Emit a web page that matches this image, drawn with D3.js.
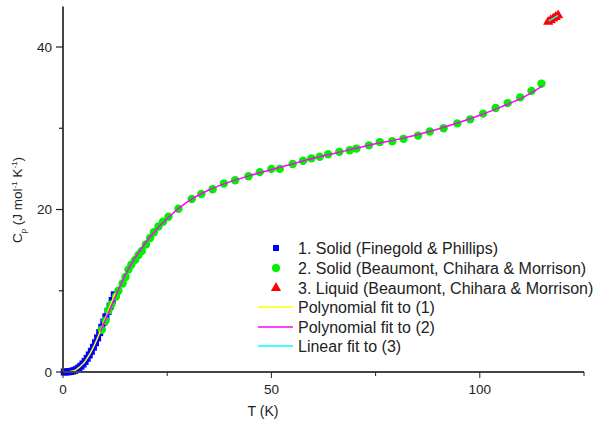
<!DOCTYPE html>
<html>
<head>
<meta charset="utf-8">
<script src="https://cdn.jsdelivr.net/npm/d3@7"></script>
<style>
  body { margin: 0; background: #fff; }
  text { font-family: "Liberation Sans", Arial, sans-serif; fill: #222; }
</style>
</head>
<body>
<div id="chart"></div>
<script>
// =============================
// DATA
// =============================
// 1. Solid (Finegold & Phillips)
const solid1T  = [0.3, 0.8, 1.3, 1.8, 2.3, 2.8, 3.3, 3.8, 4.3, 4.8, 5.3, 5.8, 6.3, 6.8, 7.3, 7.8, 8.3, 8.8, 9.3, 9.8, 10.3, 10.8, 11.3, 11.8, 12.3];
const solid1Cp = [0.0, 0.01, 0.03, 0.06, 0.12, 0.2, 0.32, 0.5, 0.72, 0.98, 1.3, 1.68, 2.1, 2.55, 3.05, 3.6, 4.2, 4.85, 5.5, 6.15, 6.8, 7.45, 8.1, 8.8, 9.5];

// 2. Solid (Beaumont, Chihara & Morrison)
const solid2T  = [9.3, 10.2, 10.9, 11.6, 12.7, 13.3, 14.3, 15.0, 15.7, 16.4, 17.3, 18.1, 18.9, 19.9, 20.9, 21.8, 22.9, 24.0, 25.3, 27.7, 30.9, 33.2, 35.9, 38.6, 41.3, 44.5, 47.2, 50.0, 52.0, 55.1, 57.6, 59.6, 61.6, 63.6, 66.3, 68.8, 70.4, 73.4, 76.0, 79.0, 81.7, 85.2, 88.0, 91.3, 94.6, 97.7, 100.8, 103.8, 106.7, 109.7, 112.4, 114.8];
const solid2Cp = [5.2, 6.3, 7.6, 8.3, 9.3, 10.0, 10.9, 11.7, 12.6, 13.2, 13.8, 14.4, 14.9, 15.7, 16.5, 17.2, 17.9, 18.5, 19.1, 20.1, 21.3, 21.9, 22.5, 23.2, 23.6, 24.1, 24.6, 25.0, 25.0, 25.6, 26.0, 26.3, 26.5, 26.8, 27.1, 27.3, 27.5, 27.9, 28.3, 28.4, 28.7, 29.1, 29.6, 30.0, 30.6, 31.1, 31.8, 32.5, 33.1, 33.8, 34.6, 35.5];

// 3. Liquid (Beaumont, Chihara & Morrison)
const liquidT  = [116.4, 117.0, 117.6, 118.2, 118.8];
const liquidCp = [43.1, 43.3, 43.5, 43.7, 43.9];

// fitted curves
const fit1T  = [0, 1, 2, 3, 4, 5, 6, 7, 8, 9, 10, 11, 12.5];
const fit1Cp = [0, 0.01, 0.08, 0.24, 0.62, 1.1, 1.85, 2.75, 3.85, 5.1, 6.4, 7.7, 9.7];
const fit2T  = [9, 12, 15, 18, 21, 25, 30, 35, 40, 45, 50, 55, 60, 65, 70, 75, 80, 85, 90, 95, 100, 105, 110, 115];
const fit2Cp = [5.0, 8.6, 12.0, 14.6, 16.7, 18.9, 21.0, 22.4, 23.4, 24.2, 24.9, 25.6, 26.3, 26.9, 27.5, 28.1, 28.6, 29.2, 29.9, 30.7, 31.6, 32.6, 33.7, 35.2];
const fit3T  = [116.5, 118.8];
const fit3Cp = [43.2, 43.9];

const xTicks = [0, 50, 100];
const yTicks = [0, 20, 40];

const legendLabels = [
  "1. Solid (Finegold & Phillips)",
  "2. Solid (Beaumont, Chihara & Morrison)",
  "3. Liquid (Beaumont, Chihara & Morrison)",
  "Polynomial fit to (1)",
  "Polynomial fit to (2)",
  "Linear fit to (3)"
];

// =============================
// SETUP
// =============================
const width = 593, height = 427;
const svg = d3.select("#chart").append("svg")
  .attr("width", width)
  .attr("height", height);

const x = d3.scaleLinear().domain([0, 125]).range([63, 584]);
const y = d3.scaleLinear().domain([0, 45]).range([372, 6.4]);

const zip = (a, b) => a.map((v, i) => [v, b[i]]);
const line = d3.line().x(d => x(d[0])).y(d => y(d[1])).curve(d3.curveMonotoneX);

const blue = "#0000ff", green = "#00f000", red = "#ff0000";

// =============================
// POINTS
// =============================
svg.append("g").selectAll("rect")
  .data(zip(solid1T, solid1Cp))
  .enter().append("rect")
  .attr("x", d => x(d[0]) - 3.5)
  .attr("y", d => y(d[1]) - 3.5)
  .attr("width", 7).attr("height", 7)
  .attr("fill", blue);

svg.append("g").selectAll("circle")
  .data(zip(solid2T, solid2Cp))
  .enter().append("circle")
  .attr("cx", d => x(d[0]))
  .attr("cy", d => y(d[1]))
  .attr("r", 4.2)
  .attr("fill", green);

const tri = d3.symbol().type(d3.symbolTriangle).size(45);
svg.append("g").selectAll("path")
  .data(zip(liquidT, liquidCp))
  .enter().append("path")
  .attr("d", tri)
  .attr("transform", d => `translate(${x(d[0])},${y(d[1])})`)
  .attr("fill", red);

// =============================
// FIT LINES
// =============================
[[fit1T, fit1Cp, "#ffff00"], [fit2T, fit2Cp, "#ff00ff"], [fit3T, fit3Cp, "#00ffff"]]
  .forEach(([t, c, col]) => {
    svg.append("path")
      .datum(zip(t, c))
      .attr("d", line)
      .attr("fill", "none")
      .attr("stroke", col)
      .attr("stroke-width", 1.5);
  });

// =============================
// AXES
// =============================
const axisCol = "#444";
const ax = svg.append("g");

// x axis
ax.append("line")
  .attr("x1", x(0)).attr("x2", x(125))
  .attr("y1", y(0)).attr("y2", y(0))
  .attr("stroke", axisCol).attr("stroke-width", 2);
d3.range(0, 126, 25).forEach(v => {
  const major = v % 50 === 0;
  ax.append("line")
    .attr("x1", x(v)).attr("x2", x(v))
    .attr("y1", y(0)).attr("y2", y(0) + (major ? 6 : 4))
    .attr("stroke", "#222").attr("stroke-width", 1);
});
ax.selectAll(".xl").data(xTicks).enter().append("text")
  .attr("x", d => x(d)).attr("y", 394)
  .attr("text-anchor", "middle")
  .attr("font-size", 13.5)
  .text(d => d);

// y axis
ax.append("line")
  .attr("x1", x(0)).attr("x2", x(0))
  .attr("y1", y(0)).attr("y2", y(45))
  .attr("stroke", axisCol).attr("stroke-width", 2);
d3.range(0, 41, 10).forEach(v => {
  const major = v % 20 === 0;
  ax.append("line")
    .attr("x1", x(0) - (major ? 7 : 4)).attr("x2", x(0))
    .attr("y1", y(v)).attr("y2", y(v))
    .attr("stroke", "#222").attr("stroke-width", 1.2);
});
ax.selectAll(".yl").data(yTicks).enter().append("text")
  .attr("x", 52).attr("y", d => y(d) + 4.5)
  .attr("text-anchor", "end")
  .attr("font-size", 13.5)
  .text(d => d);

// axis titles
svg.append("text")
  .attr("x", 263).attr("y", 416)
  .attr("text-anchor", "middle")
  .attr("font-size", 14)
  .text("T (K)");

const yt = svg.append("text")
  .attr("transform", "translate(22,200) rotate(-90)")
  .attr("text-anchor", "middle")
  .attr("font-size", 13.5);
yt.append("tspan").text("C");
yt.append("tspan").attr("font-size", 8).attr("dy", 4).text("p");
yt.append("tspan").attr("dy", -4).text(" (J mol");
yt.append("tspan").attr("font-size", 8).attr("dy", -5).text("-1");
yt.append("tspan").attr("dy", 5).text(" K");
yt.append("tspan").attr("font-size", 8).attr("dy", -5).text("-1");
yt.append("tspan").attr("dy", 5).text(")");

// =============================
// LEGEND
// =============================
const rowsY = [248, 268, 288, 307, 327, 346];
const lg = svg.append("g");
lg.append("rect").attr("x", 273).attr("y", rowsY[0] - 3).attr("width", 6).attr("height", 6).attr("fill", blue);
lg.append("circle").attr("cx", 276).attr("cy", rowsY[1]).attr("r", 4).attr("fill", green);
lg.append("path").attr("d", tri).attr("transform", `translate(276,${rowsY[2]})`).attr("fill", red);
["#ffff00", "#ff00ff", "#00ffff"].forEach((c, i) => {
  lg.append("line")
    .attr("x1", 258).attr("x2", 293)
    .attr("y1", rowsY[3 + i]).attr("y2", rowsY[3 + i])
    .attr("stroke", c).attr("stroke-width", 1.5);
});
lg.selectAll("text").data(legendLabels).enter().append("text")
  .attr("x", 298).attr("y", (d, i) => rowsY[i] + 5.5)
  .attr("font-size", 16)
  .text(d => d);
</script>
</body>
</html>
